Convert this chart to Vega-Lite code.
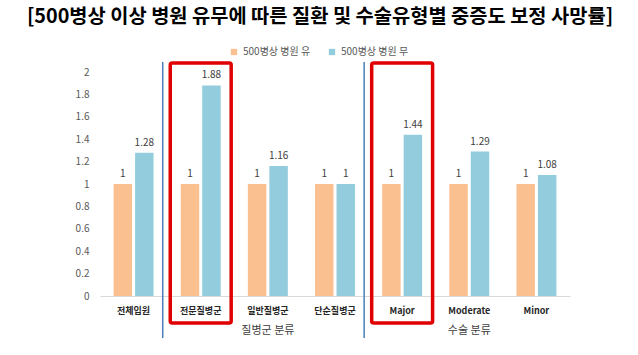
{
  "$schema": "https://vega.github.io/schema/vega-lite/v6.json",
  "autosize": {"type": "none"},
  "padding": {"left": 100, "top": 72, "right": 68, "bottom": 59},
  "width": 470,
  "height": 224,
  "background": "white",
  "title": {
    "text": "[500병상 이상 병원 유무에 따른 질환 및 수술유형별 중증도 보정 사망률]",
    "anchor": "middle",
    "frame": "group",
    "dx": -15,
    "fontSize": 19.8,
    "fontWeight": "bold",
    "color": "#000000",
    "font": "Noto Sans CJK KR",
    "offset": 20
  },
  "datasets": {
    "bars": [
      {"category": "전체입원", "series": "500병상 병원 유", "value": 1},
      {"category": "전체입원", "series": "500병상 병원 무", "value": 1.28},
      {"category": "전문질병군", "series": "500병상 병원 유", "value": 1},
      {"category": "전문질병군", "series": "500병상 병원 무", "value": 1.88},
      {"category": "일반질병군", "series": "500병상 병원 유", "value": 1},
      {"category": "일반질병군", "series": "500병상 병원 무", "value": 1.16},
      {"category": "단순질병군", "series": "500병상 병원 유", "value": 1},
      {"category": "단순질병군", "series": "500병상 병원 무", "value": 1},
      {"category": "Major", "series": "500병상 병원 유", "value": 1},
      {"category": "Major", "series": "500병상 병원 무", "value": 1.44},
      {"category": "Moderate", "series": "500병상 병원 유", "value": 1},
      {"category": "Moderate", "series": "500병상 병원 무", "value": 1.29},
      {"category": "Minor", "series": "500병상 병원 유", "value": 1},
      {"category": "Minor", "series": "500병상 병원 무", "value": 1.08}
    ],
    "marks": [
      {"category": "전문질병군"},
      {"category": "Major"}
    ],
    "groups": [
      {"category": "일반질병군", "label": "질병군 분류"},
      {"category": "Moderate", "label": "수술 분류"}
    ]
  },
  "encoding": {
    "x": {
      "field": "category",
      "type": "nominal",
      "sort": ["전체입원", "전문질병군", "일반질병군", "단순질병군", "Major", "Moderate", "Minor"],
      "scale": {"paddingInner": 0.405, "paddingOuter": 0.2025},
      "axis": {
        "title": null,
        "labelAngle": 0,
        "labelFontWeight": "bold",
        "labelFontSize": 9,
        "labelColor": "#262626",
        "labelPadding": 10,
        "ticks": false,
        "domainColor": "#D9D9D9",
        "domainWidth": 1,
        "grid": false
      }
    }
  },
  "layer": [
    {
      "data": {"name": "bars"},
      "mark": {"type": "bar"},
      "encoding": {
        "xOffset": {
          "field": "series",
          "type": "nominal",
          "sort": ["500병상 병원 유", "500병상 병원 무"],
          "scale": {"paddingInner": 0.14, "paddingOuter": 0}
        },
        "y": {
          "field": "value",
          "type": "quantitative",
          "scale": {"domain": [0, 2], "nice": false, "zero": true},
          "axis": {"title": null, "values": [0, 0.2, 0.4, 0.6, 0.8, 1, 1.2, 1.4, 1.6, 1.8, 2], "format": ".1~f", "labelOverlap": false}
        },
        "color": {
          "field": "series",
          "type": "nominal",
          "scale": {"domain": ["500병상 병원 유", "500병상 병원 무"], "range": ["#FAC090", "#93CDDD"]},
          "legend": {
            "title": null,
            "orient": "none",
            "direction": "horizontal",
            "legendX": 129,
            "legendY": -25,
            "symbolType": "square",
            "symbolSize": 40,
            "symbolStrokeWidth": 0,
            "labelFontSize": 10,
            "labelColor": "#595959",
            "labelOffset": 4,
            "columnPadding": 16
          }
        }
      }
    },
    {
      "data": {"name": "bars"},
      "mark": {"type": "text", "baseline": "bottom", "dy": -5, "fontSize": 10, "color": "#404040"},
      "encoding": {
        "xOffset": {
          "field": "series",
          "type": "nominal",
          "sort": ["500병상 병원 유", "500병상 병원 무"]
        },
        "y": {"field": "value", "type": "quantitative", "axis": {"title": null, "values": [0, 0.2, 0.4, 0.6, 0.8, 1, 1.2, 1.4, 1.6, 1.8, 2], "format": ".1~f", "labelOverlap": false}},
        "text": {"field": "value", "type": "quantitative", "format": ".2~f"}
      }
    },
    {
      "data": {"name": "marks"},
      "mark": {"type": "rule", "color": "#4A7EBB", "strokeWidth": 1.5, "xOffset": -38},
      "encoding": {
        "x": {"field": "category", "type": "nominal", "bandPosition": 0.5},
        "y": {"datum": 2.089, "type": "quantitative", "axis": {"title": null, "values": [0, 0.2, 0.4, 0.6, 0.8, 1, 1.2, 1.4, 1.6, 1.8, 2], "format": ".1~f", "labelOverlap": false}},
        "y2": {"datum": -0.375}
      }
    },
    {
      "data": {"name": "marks"},
      "mark": {"type": "bar", "width": {"band": 1.525}, "fillOpacity": 0, "stroke": "#E00000", "strokeWidth": 3.5, "cornerRadius": 2},
      "encoding": {
        "y": {"datum": 2.08, "type": "quantitative", "axis": {"title": null, "values": [0, 0.2, 0.4, 0.6, 0.8, 1, 1.2, 1.4, 1.6, 1.8, 2], "format": ".1~f", "labelOverlap": false}},
        "y2": {"datum": -0.241}
      }
    },
    {
      "data": {"name": "groups"},
      "mark": {"type": "text", "baseline": "middle", "fontSize": 11, "color": "#404040"},
      "encoding": {
        "y": {"datum": -0.3125, "type": "quantitative", "axis": {"title": null, "values": [0, 0.2, 0.4, 0.6, 0.8, 1, 1.2, 1.4, 1.6, 1.8, 2], "format": ".1~f", "labelOverlap": false}},
        "text": {"field": "label", "type": "nominal"}
      }
    }
  ],
  "config": {
    "view": {"stroke": null},
    "font": "Noto Sans CJK KR",
    "axisY": {
      "labelOverlap": false,
      "domain": false,
      "ticks": false,
      "grid": false,
      "labelPadding": 11,
      "labelFontSize": 10,
      "labelColor": "#595959"
    }
  }
}
